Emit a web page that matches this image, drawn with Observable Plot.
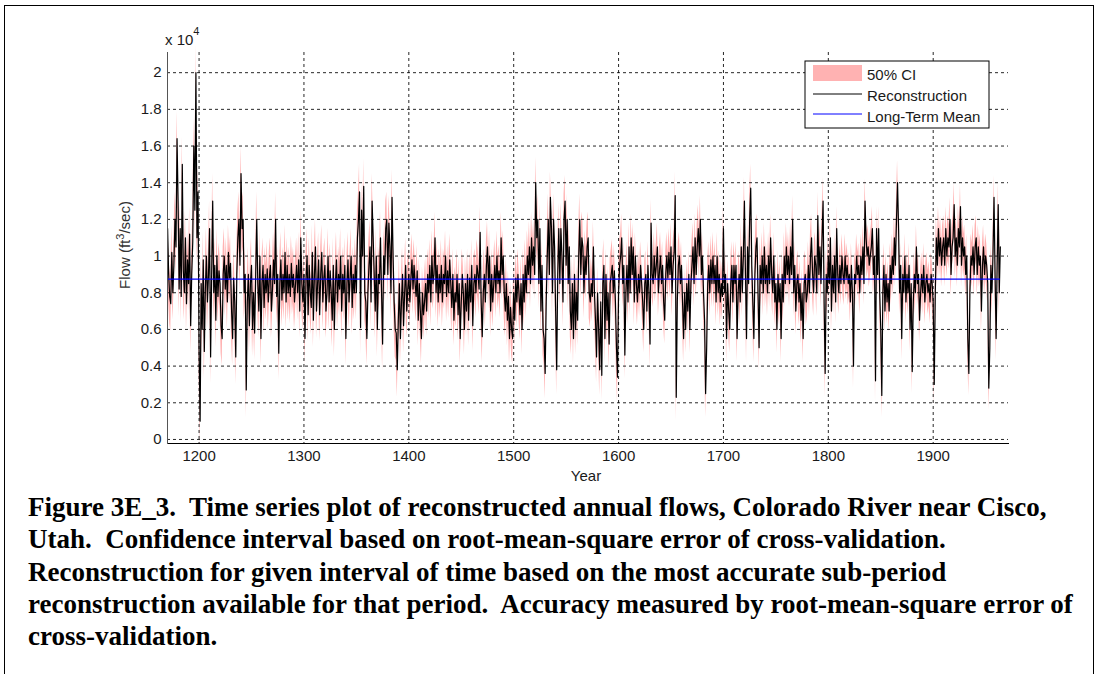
<!DOCTYPE html>
<html>
<head>
<meta charset="utf-8">
<script src="https://cdn.jsdelivr.net/npm/d3@7"></script>
<script src="https://cdn.jsdelivr.net/npm/@observablehq/plot@0.6"></script>
<style>
  html, body { margin: 0; padding: 0; background: #fff; }
  body { width: 1100px; height: 674px; overflow: hidden; position: relative; }
  #frame { position: absolute; left: 4px; top: 5px; width: 1090px; height: 720px; border: 1.5px solid #000; box-sizing: border-box; }
  #chart { position: absolute; left: 0; top: 0; }
  #caption { position: absolute; left: 28px; top: 491px; font-family: "Liberation Serif", "Times New Roman", serif; font-weight: bold; font-size: 27px; line-height: 32.3px; color: #000; white-space: pre; }
</style>
</head>
<body>
<div id="frame"></div>
<div id="chart"></div>
<div id="caption"></div>
<script>
// ---- data (flows in thousands of ft^3/sec) ----
const startYear = 1170;
const flow = [
  11.5, 9.0, 7.8, 7.4, 10.2, 8.0, 9.5, 12.0, 10.5, 16.4,
  13.0, 8.2, 11.5, 7.8, 15.0, 9.2, 8.0, 11.0, 7.4, 9.8,
  8.5, 11.2, 6.2, 9.0, 10.8, 16.0, 12.5, 20.0, 11.0, 13.5,
  5.0, 1.0, 8.5, 6.0, 9.8, 4.8, 8.2, 10.0, 7.5, 9.0,
  11.5, 4.5, 9.0, 13.0, 8.0, 9.5, 6.5, 10.0, 7.8, 9.2,
  8.5, 6.2, 5.5, 9.0, 10.0, 8.2, 9.5, 7.5, 10.2, 8.8,
  9.6, 7.0, 5.5, 8.8, 7.5, 4.5, 9.0, 11.0, 12.0, 9.5,
  14.5, 11.5, 12.0, 8.0, 9.0, 2.7, 7.5, 9.0, 6.2, 8.5,
  9.5, 6.0, 8.0, 5.8, 9.0, 12.0, 8.5, 7.0, 10.0, 5.5,
  8.5, 9.5, 7.2, 9.0, 8.0, 9.3, 7.5, 8.8, 9.5, 7.0,
  8.2, 9.8, 8.5, 12.0, 7.8, 9.0, 4.7, 8.5, 9.8, 7.6,
  9.0, 8.0, 10.2, 7.5, 9.5, 8.0, 9.0, 7.8, 9.6, 8.3,
  9.0, 7.5, 8.5, 9.5, 8.0, 9.8, 7.0, 11.0, 8.5, 7.5,
  9.0, 5.5, 8.8, 10.0, 6.8, 9.5, 8.0, 7.2, 10.2, 6.5,
  9.0, 10.5, 7.0, 8.5, 9.8, 6.8, 9.0, 10.2, 7.5, 8.8,
  9.5, 7.0, 8.0, 10.0, 7.5, 9.2, 8.0, 6.5, 9.5, 6.0,
  8.5, 9.8, 7.5, 9.0, 8.2, 10.0, 7.0, 9.0, 8.0, 9.5,
  5.5, 8.5, 9.8, 7.5, 8.8, 10.0, 7.2, 9.0, 8.0, 9.5,
  8.0, 11.0, 12.0, 13.5, 6.1, 12.5, 10.0, 13.8, 8.0, 7.5,
  5.5, 8.0, 9.5, 10.5, 7.5, 13.0, 11.0, 9.0, 7.0, 10.0,
  6.0, 9.0, 8.5, 11.0, 8.0, 5.2, 10.0, 9.0, 11.5, 12.0,
  9.0, 11.8, 10.5, 8.0, 13.2, 10.0, 7.5, 6.0, 5.8, 3.8,
  6.5, 8.5, 5.5, 7.5, 9.0, 6.2, 8.0, 9.5, 7.0, 8.2,
  9.0, 7.5, 8.8, 9.8, 8.2, 9.5, 8.5, 7.8, 9.2, 6.5,
  8.5, 7.0, 5.5, 8.0, 6.8, 7.5, 8.5, 7.0, 9.0, 8.0,
  9.5, 7.5, 10.0, 8.5, 9.0, 11.0, 8.0, 9.5, 7.5, 9.0,
  8.0, 9.5, 7.5, 9.0, 8.5, 10.0, 7.8, 9.2, 8.0, 9.8,
  8.5, 7.2, 9.0, 6.5, 8.0, 7.5, 9.0, 6.8, 8.5, 5.5,
  7.5, 9.0, 8.0, 6.0, 8.5, 7.0, 9.0, 6.5, 8.8, 7.5,
  9.5, 6.2, 8.5, 9.0, 8.0, 9.5, 9.0, 8.2, 11.3, 7.5,
  5.6, 8.0, 9.0, 7.5, 9.5, 10.5, 8.5, 10.0, 7.0, 9.0,
  7.5, 8.5, 9.5, 8.0, 10.0, 8.5, 9.2, 8.0, 11.0, 9.0,
  10.0, 8.0, 7.0, 8.5, 6.5, 7.8, 5.5, 7.2, 6.0, 5.5,
  8.0, 6.5, 8.8, 7.5, 9.0, 8.0, 6.8, 8.5, 6.0, 9.0,
  7.5, 9.5, 8.0, 10.0, 9.0, 10.5, 8.5, 11.0, 9.5, 10.5,
  9.0, 14.0, 11.0, 12.0, 8.5, 11.5, 7.0, 9.5, 6.0, 5.5,
  3.6, 7.5, 10.0, 12.0, 9.0, 13.2, 11.5, 8.0, 12.0, 10.5,
  7.0, 3.8, 9.0, 11.5, 8.5, 11.5, 10.0, 7.5, 12.0, 13.0,
  9.5, 12.0, 8.5, 10.5, 7.0, 6.0, 8.5, 5.5, 9.0, 6.0,
  8.0, 6.5, 10.0, 12.0, 9.0, 11.0, 10.5, 8.0, 10.0, 9.0,
  10.5, 11.0, 8.0, 7.5, 8.5, 7.8, 10.5, 8.0, 6.5, 4.5,
  8.0, 6.0, 3.8, 7.5, 3.5, 8.5, 9.5, 5.5, 9.0, 6.5,
  8.0, 5.2, 8.5, 9.0, 9.5, 8.0, 9.2, 7.5, 5.0, 3.4,
  8.0, 9.5, 10.0, 11.0, 8.5, 9.5, 4.6, 8.0, 9.5, 7.5,
  10.5, 8.0, 11.0, 9.0, 10.5, 7.5, 10.0, 8.5, 7.5, 9.0,
  8.0, 9.5, 8.5, 7.5, 6.0, 8.5, 9.0, 7.0, 9.5, 8.0,
  5.2, 11.8, 9.0, 8.5, 10.0, 8.8, 9.5, 10.5, 8.0, 9.2,
  10.0, 8.5, 9.5, 7.5, 6.5, 9.0, 10.0, 8.8, 10.2, 9.0,
  10.5, 8.0, 9.5, 10.2, 13.3, 2.3, 7.5, 9.5, 10.0, 8.5,
  9.5, 7.5, 5.5, 8.0, 6.0, 8.5, 7.0, 9.0, 6.0, 8.5,
  9.5, 10.5, 8.5, 11.0, 9.0, 10.5, 11.5, 10.0, 12.0, 9.0,
  10.0, 8.0, 6.5, 2.5, 5.0, 8.5, 9.5, 8.0, 9.8, 8.5,
  10.0, 8.5, 9.5, 7.5, 10.0, 8.0, 9.0, 7.5, 8.5, 7.8,
  11.5, 8.0, 9.0, 5.5, 8.5, 7.0, 6.0, 8.5, 9.5, 7.5,
  9.5, 8.5, 9.5, 5.5, 8.0, 9.0, 7.5, 10.5, 8.0, 10.0,
  13.0, 9.0, 5.5, 10.5, 8.5, 12.0, 13.7, 9.5, 7.5, 5.5,
  9.0, 10.5, 11.0, 8.0, 5.0, 9.5, 8.5, 10.0, 8.0, 10.5,
  8.5, 9.5, 8.0, 10.0, 8.5, 11.0, 9.0, 8.0, 10.0, 7.5,
  8.5, 6.0, 9.0, 7.5, 8.5, 5.5, 9.0, 7.5, 10.0, 8.5,
  10.5, 9.0, 10.0, 8.5, 10.5, 9.0, 12.0, 8.0, 9.5, 7.0,
  8.5, 9.0, 7.5, 8.5, 6.5, 8.0, 5.5, 8.5, 9.0, 7.5,
  8.0, 9.5, 8.0, 10.0, 11.0, 9.0, 8.0, 10.0, 9.5, 8.0,
  12.2, 9.0, 10.5, 8.5, 11.0, 13.0, 7.5, 3.6, 9.0, 8.0,
  10.0, 8.5, 11.0, 7.0, 9.5, 8.0, 10.0, 7.5, 11.5, 9.0,
  8.0, 9.5, 8.5, 10.0, 9.0, 8.5, 10.0, 8.8, 9.5, 8.5,
  9.0, 7.5, 9.5, 8.0, 4.0, 9.0, 8.5, 10.0, 9.0, 9.5,
  8.0, 10.0, 9.0, 10.5, 8.5, 13.0, 11.0, 10.0, 10.5, 9.5,
  10.0, 10.5, 11.5, 9.0, 10.0, 3.2, 11.5, 9.0, 11.5, 8.0,
  6.0, 2.4, 8.0, 9.5, 7.0, 9.0, 7.5, 8.5, 7.0, 9.5,
  8.5, 10.0, 9.0, 11.0, 9.5, 12.0, 14.0, 11.5, 8.0, 9.5,
  5.5, 9.0, 8.0, 10.0, 7.5, 9.0, 8.0, 9.5, 6.0, 8.5,
  3.7, 7.5, 9.0, 8.0, 10.5, 8.5, 9.0, 6.5, 8.0, 9.0,
  8.0, 9.5, 7.5, 8.5, 9.0, 8.0, 8.5, 7.5, 9.0, 8.5,
  7.5, 3.0, 8.0, 11.0, 9.5, 11.5, 10.0, 11.0, 9.5, 10.5,
  11.0, 9.5, 11.5, 10.0, 11.0, 10.5, 12.0, 9.0, 10.5, 11.0,
  12.8, 10.0, 11.0, 9.5, 11.5, 10.5, 12.7, 9.5, 11.0, 10.0,
  10.5, 9.0, 10.0, 5.5, 3.6, 8.0, 10.0, 9.5, 10.5, 9.0,
  10.5, 11.0, 9.0, 10.5, 9.5, 10.0, 7.0, 9.5, 10.5, 9.0,
  10.0, 9.5, 8.5, 2.8, 5.0, 9.5, 8.0, 10.0, 13.2, 9.0,
  5.5, 9.5, 12.8, 8.0, 10.5
];
// 50% CI half-width (thousands ft^3/sec) for each sub-period of the reconstruction
const ciPeriodStart = [1170, 1400, 1600, 1800];
const ciHalfWidth   = [1.5, 1.4, 1.3, 1.2];
const longTermMean = 8.74;

const xTicks = [1200, 1300, 1400, 1500, 1600, 1700, 1800, 1900];
const yTicks = [0, 2, 4, 6, 8, 10, 12, 14, 16, 18, 20];
const yTickLabels = ["0", "0.2", "0.4", "0.6", "0.8", "1", "1.2", "1.4", "1.6", "1.8", "2"];
const legendLabels = ["50% CI", "Reconstruction", "Long-Term Mean"];
const captionLines = [
  "Figure 3E_3.  Time series plot of reconstructed annual flows, Colorado River near Cisco,",
  "Utah.  Confidence interval based on root-mean-square error of cross-validation.",
  "Reconstruction for given interval of time based on the most accurate sub-period",
  "reconstruction available for that period.  Accuracy measured by root-mean-square error of",
  "cross-validation."
];

// ---- build table ----
function halfWidth(year) {
  let h = ciHalfWidth[0];
  ciPeriodStart.forEach((s, i) => { if (year >= s) h = ciHalfWidth[i]; });
  return h;
}
const data = flow.map((v, i) => {
  const year = startYear + i;
  const h = halfWidth(year);
  return {year, flow: v, lo: v - h, hi: v + h};
});
const firstYear = data[0].year, lastYear = data[data.length - 1].year;

const pink = "#ffb2b2";
const font = "'Liberation Sans', Arial, sans-serif";

const chart = Plot.plot({
  width: 1100,
  height: 490,
  marginLeft: 167,
  marginRight: 92,
  marginTop: 52,
  marginBottom: 47,
  style: {fontFamily: font, fontSize: "15px", color: "#1a1a1a", background: "transparent"},
  x: {domain: [1169.9, 1971.8], label: null},
  y: {domain: [-0.22, 21.1], label: null},
  marks: [
    Plot.areaY(data, {x: "year", y1: "lo", y2: "hi", fill: pink}),
    Plot.lineY(data, {x: "year", y: "flow", stroke: "#000", strokeWidth: 1.2}),
    Plot.gridX(xTicks, {stroke: "#000", strokeOpacity: 0.85, strokeDasharray: "3,3"}),
    Plot.gridY(yTicks, {stroke: "#000", strokeOpacity: 0.85, strokeDasharray: "3,3"}),
    Plot.ruleY([longTermMean], {x1: firstYear, x2: lastYear, stroke: "#0000ff", strokeWidth: 1.2}),
    Plot.axisX(xTicks, {tickSize: 0, tickPadding: 7, tickFormat: d => String(d), fontSize: 15, label: null}),
    Plot.axisY(yTicks, {tickSize: 0, tickPadding: 6, tickFormat: d => yTickLabels[yTicks.indexOf(d)], fontSize: 15, label: null}),
    Plot.frame({anchor: "bottom", stroke: "#000"}),
    Plot.frame({anchor: "left", stroke: "#555"})
  ]
});
document.getElementById("chart").appendChild(chart);

// ---- extra texts and legend inside svg ----
const svg = d3.select(chart);
svg.append("text").attr("x", 586).attr("y", 481).attr("text-anchor", "middle")
  .attr("font-family", font).attr("font-size", 15).attr("fill", "#1a1a1a").text("Year");
const yl = svg.append("text").attr("transform", "translate(130,245) rotate(-90)")
  .attr("text-anchor", "middle").attr("font-family", font).attr("font-size", 15).attr("fill", "#333");
yl.append("tspan").text("Flow (ft");
yl.append("tspan").attr("font-size", 11).attr("dy", -6).text("3");
yl.append("tspan").attr("dy", 6).text("/sec)");
const ex = svg.append("text").attr("x", 165).attr("y", 45).attr("text-anchor", "start")
  .attr("font-family", font).attr("font-size", 15).attr("fill", "#1a1a1a");
ex.append("tspan").text("x 10");
ex.append("tspan").attr("font-size", 11).attr("dy", -10).text("4");

// legend
const lg = svg.append("g");
lg.append("rect").attr("x", 805).attr("y", 61).attr("width", 184).attr("height", 67)
  .attr("fill", "#fff").attr("stroke", "#000").attr("stroke-width", 1);
lg.append("rect").attr("x", 813).attr("y", 65).attr("width", 49).attr("height", 16).attr("fill", pink);
lg.append("line").attr("x1", 813).attr("x2", 862).attr("y1", 94).attr("y2", 94).attr("stroke", "#000");
lg.append("line").attr("x1", 813).attr("x2", 862).attr("y1", 114).attr("y2", 114).attr("stroke", "#0000ff");
[79.5, 100.5, 121.5].forEach((y, i) => {
  lg.append("text").attr("x", 867).attr("y", y).attr("text-anchor", "start")
    .attr("font-family", font).attr("font-size", 15).attr("fill", "#1a1a1a").text(legendLabels[i]);
});

// caption
const cap = document.getElementById("caption");
captionLines.forEach(t => { const d = document.createElement("div"); d.textContent = t; cap.appendChild(d); });
</script>
</body>
</html>
